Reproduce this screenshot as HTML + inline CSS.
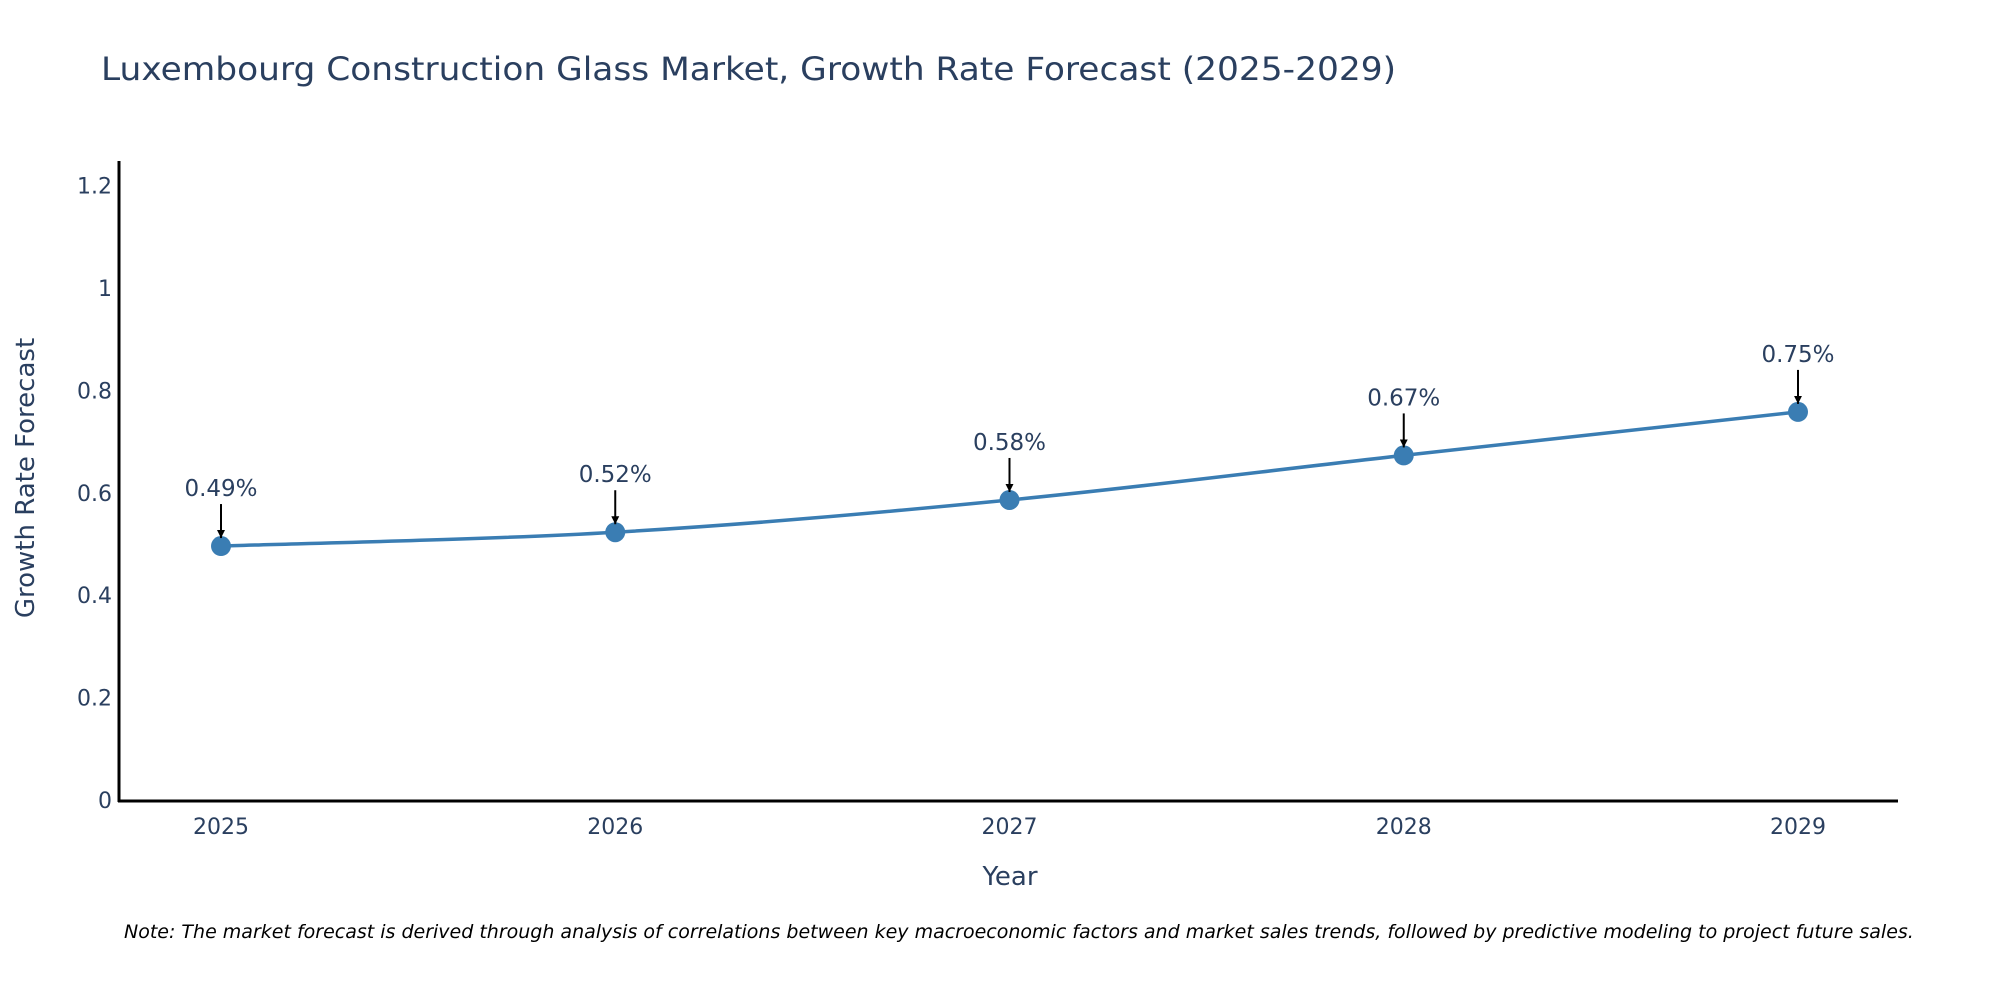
<!DOCTYPE html>
<html><head><meta charset="utf-8"><style>
html,body{margin:0;padding:0;background:#fff;}
svg{display:block;font-family:"DejaVu Sans","Liberation Sans",sans-serif;}
</style></head><body>
<svg id="chart" width="2000" height="1000" viewBox="0 0 2000 1000">
<defs><marker id="ah" viewBox="0 0 10 10" refX="10" refY="5" markerWidth="4" markerHeight="4" orient="auto"><path d="M0,0 L10,5 L0,10 z" fill="#000"/></marker></defs>
<text x="101" y="80" font-size="32" fill="#2a3f5f" textLength="1295" lengthAdjust="spacingAndGlyphs">Luxembourg Construction Glass Market, Growth Rate Forecast (2025-2029)</text>
<g id="yticks"></g>
<g id="xticks"></g>
<line x1="119" y1="161" x2="119" y2="802" stroke="#000" stroke-width="3"/>
<line x1="118" y1="801" x2="1898" y2="801" stroke="#000" stroke-width="3"/>
<text transform="translate(34,478) rotate(-90)" text-anchor="middle" font-size="26" fill="#2a3f5f">Growth Rate Forecast</text>
<text x="1010" y="885" text-anchor="middle" font-size="26" fill="#2a3f5f">Year</text>
<path id="line" fill="none" stroke="#3a7db3" stroke-width="3.5"/>
<g id="points"></g>
<g id="annots"></g>
<text x="124" y="938" font-size="19" font-style="italic" fill="#000">Note: The market forecast is derived through analysis of correlations between key macroeconomic factors and market sales trends, followed by predictive modeling to project future sales.</text>
</svg>
<script>
const years = [2025, 2026, 2027, 2028, 2029];
const growth = [0.496, 0.523, 0.586, 0.673, 0.758];
const labels = ["0.49%", "0.52%", "0.58%", "0.67%", "0.75%"];
const yTicks = [0, 0.2, 0.4, 0.6, 0.8, 1, 1.2];
const yTickLabels = ["0", "0.2", "0.4", "0.6", "0.8", "1", "1.2"];

const NS = "http://www.w3.org/2000/svg";
function xs(i){ return 221 + i * 394.25; }
function ys(v){ return 800 - v * 512; }
function mk(tag, attrs, parent){ const e = document.createElementNS(NS, tag); for (const k in attrs) e.setAttribute(k, attrs[k]); parent.appendChild(e); return e; }

const yg = document.getElementById('yticks');
yTicks.forEach((v, i) => {
  const t = mk('text', {x: 112, y: ys(v) + 8, 'text-anchor': 'end', 'font-size': 22, fill: '#2a3f5f'}, yg);
  
  
  t.textContent = yTickLabels[i];
});
const xg = document.getElementById('xticks');
years.forEach((y, i) => {
  const t = mk('text', {x: xs(i), y: 834, 'text-anchor': 'middle', 'font-size': 22, fill: '#2a3f5f'}, xg);
  
  
  t.textContent = String(y);
});

const P = growth.map((v, i) => [xs(i), ys(v)]);
let d = `M${P[0][0]},${P[0][1]}`;
for (let i = 0; i < P.length - 1; i++) {
  const p0 = P[Math.max(0, i - 1)], p1 = P[i], p2 = P[i + 1], p3 = P[Math.min(P.length - 1, i + 2)];
  const s = 0.17;
  const c1 = [p1[0] + (p2[0] - p0[0]) * s, p1[1] + (p2[1] - p0[1]) * s];
  const c2 = [p2[0] - (p3[0] - p1[0]) * s, p2[1] - (p3[1] - p1[1]) * s];
  d += ` C${c1[0]},${c1[1]} ${c2[0]},${c2[1]} ${p2[0]},${p2[1]}`;
}
document.getElementById('line').setAttribute('d', d);

const pg = document.getElementById('points');
const ag = document.getElementById('annots');
P.forEach((p, i) => {
  const c = mk('circle', {cx: p[0], cy: p[1], r: 10, fill: '#3a7db3'}, pg);
  
  
  const l = mk('line', {x1: p[0], y1: p[1] - 42, x2: p[0], y2: p[1] - 8, stroke: '#000', 'stroke-width': 2, 'marker-end': 'url(#ah)'}, ag);
  
  
  const t = mk('text', {x: p[0], y: p[1] - 50, 'text-anchor': 'middle', 'font-size': 23, fill: '#2a3f5f'}, ag);
  
  
  t.textContent = labels[i];
});
</script>
</body></html>
